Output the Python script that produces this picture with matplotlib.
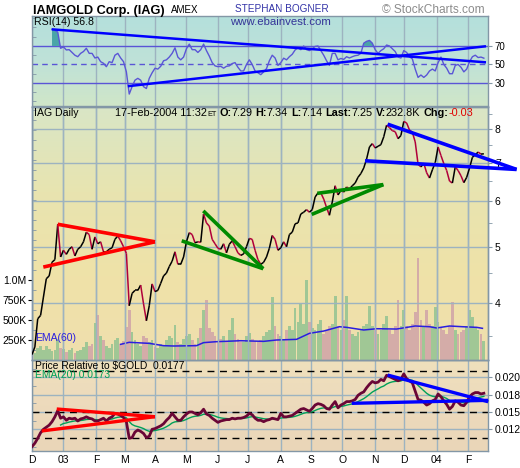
import numpy as np
import pandas as pd
import matplotlib
matplotlib.use("Agg")
import matplotlib.pyplot as plt
from matplotlib.collections import LineCollection
from matplotlib.colors import LinearSegmentedColormap
from matplotlib.ticker import MultipleLocator, FixedLocator

plt.rcParams["font.family"] = ["Liberation Sans", "DejaVu Sans"]

W, H = 520, 468

# trading days Dec 2 2002 .. Feb 17 2004; everything is plotted by trading-day index
DAYS = pd.bdate_range("2002-12-02", "2004-02-17")
STEP = 2          # series below every 2nd trading day
RSI_START = 7     # first RSI(14) sample (in steps)

# ── data ─────────────────────────────────────────────────────────────────────
price = [3.25, 3.35, 3.75, 3.80, 4.09, 4.40, 4.45, 4.70, 4.75, 5.47,
         4.80, 4.93, 4.85, 4.95, 5.00, 4.82, 4.95, 5.00, 5.10, 5.30,
         5.25, 4.95, 5.20, 5.06, 5.10, 4.90, 4.90, 4.95, 4.98, 5.15,
         5.22, 5.12, 5.00, 4.87, 3.95, 4.15, 4.20, 4.20, 4.29, 3.98,
         3.72, 3.95, 4.31, 4.18, 4.20, 4.32, 4.45, 4.50, 4.62, 4.72,
         4.90, 4.66, 4.66, 4.80, 5.10, 5.29, 5.25, 5.08, 5.10, 5.09,
         5.70, 5.50, 5.43, 5.15, 5.06, 4.97, 4.95, 5.06, 4.88, 5.05,
         5.12, 5.00, 4.88, 4.83, 4.86, 5.00, 5.17, 5.15, 4.93, 4.75,
         4.66, 4.70, 4.80, 4.97, 5.23, 5.15, 4.93, 4.98, 5.10, 5.00,
         5.25, 5.30, 5.48, 5.50, 5.70, 5.74, 5.80, 5.74, 5.80, 6.10,
         6.20, 6.20, 6.05, 5.85, 5.67, 5.98, 6.38, 6.15, 6.26, 6.22,
         6.35, 6.30, 6.38, 6.45, 6.60, 6.70, 6.85, 7.10, 7.45, 7.55,
         7.42, 7.47, 7.52, 7.76, 8.13, 8.05, 7.95, 7.92, 7.70, 7.80,
         8.25, 8.20, 7.97, 7.90, 7.60, 6.95, 6.88, 6.98, 6.72, 6.58,
         6.80, 7.00, 7.45, 7.20, 6.97, 6.78, 6.50, 6.45, 6.88, 6.78,
         6.64, 6.46, 6.60, 6.85, 7.15, 7.22, 7.30, 7.24, 7.25]

volume_k = [60, 90, 150, 180, 120, 170, 140, 110, 130, 260,
            150, 140, 100, 120, 150, 90, 110, 130, 160, 230,
            180, 200, 460, 560, 300, 250, 180, 150, 200, 250,
            280, 200, 240, 410, 630, 350, 250, 200, 180, 300,
            280, 220, 250, 160, 150, 200, 180, 250, 300, 280,
            440, 220, 200, 260, 300, 330, 250, 200, 280, 400,
            620, 750, 400, 350, 300, 220, 260, 300, 240, 380,
            520, 320, 260, 220, 230, 300, 340, 260, 240, 220,
            250, 300, 350, 380, 790, 420, 330, 300, 260, 380,
            420, 380, 650, 480, 700, 450, 1000, 480, 400, 380,
            450, 500, 330, 380, 420, 450, 800, 420, 380, 500,
            800, 380, 330, 300, 350, 380, 420, 450, 675, 420,
            380, 330, 380, 450, 550, 380, 330, 420, 750, 420,
            625, 420, 380, 450, 600, 1270, 500, 420, 625, 450,
            420, 660, 480, 400, 380, 330, 420, 725, 380, 330,
            350, 380, 420, 625, 540, 400, 380, 330, 233]

ema60_idx = [62, 68, 82, 92, 99, 115, 120, 129, 146, 162, 171, 185, 194,
             204, 215, 220, 232, 241, 255, 268, 278, 283, 292, 301, 311, 315]
ema60_k = [196, 221, 208, 179, 175, 179, 217, 229, 241, 233, 250, 258, 333,
           362, 416, 408, 375, 391, 387, 425, 416, 400, 425, 416, 408, 396]

rsi = [88, 87, 85,
       67.5, 69, 65.7, 66, 63, 60, 58.4, 62, 64, 67.5,
       62, 62, 57, 58, 53, 51.3, 47.6, 53, 52, 60,
       62, 57, 53, 42, 18, 26, 33, 35, 33, 26,
       24, 35, 41, 45.9, 45, 48, 54, 55, 58, 62,
       68, 58, 55, 58, 67, 72, 66, 66, 63, 66,
       72, 65, 59, 52, 48.5, 47.6, 48, 46, 48, 48.5,
       51, 52, 47, 43, 43, 50, 55, 50, 43, 41,
       39, 42, 45.5, 54, 60, 57, 49, 52, 56.8, 55,
       58.4, 61, 65.7, 68, 66, 70, 66, 65, 67, 69.5,
       70, 65, 60, 54, 49, 62, 62, 55, 56.5, 55.5,
       58.4, 57, 58.4, 59.5, 60, 62, 73, 75, 76, 73,
       66, 62, 65, 67, 71, 70, 67, 64, 58, 57,
       65, 63, 58.4, 56, 45, 36, 38.6, 36, 38.6, 43,
       45, 43, 52, 58, 50, 46, 40, 40, 49, 50,
       47, 42, 45, 53, 58.4, 60, 57.5, 58, 56.8]

rel_gold = [0.0100, 0.0105, 0.0112, 0.0120, 0.0125, 0.0128, 0.0131, 0.0136, 0.0143, 0.0152,
            0.0141, 0.0143, 0.0138, 0.0141, 0.0140, 0.0141, 0.0137, 0.0140, 0.0141, 0.0143,
            0.0141, 0.0140, 0.0137, 0.0137, 0.0139, 0.0141, 0.0137, 0.0141, 0.0143, 0.0148,
            0.0147, 0.0145, 0.0142, 0.0136, 0.0112, 0.0113, 0.0121, 0.0124, 0.0122, 0.0119,
            0.0113, 0.0115, 0.0125, 0.0126, 0.0128, 0.0130, 0.0133, 0.0138, 0.0142, 0.0148,
            0.0143, 0.0138, 0.0138, 0.0143, 0.0147, 0.0150, 0.0150, 0.0148, 0.0146, 0.0149,
            0.0154, 0.0147, 0.0145, 0.0141, 0.0138, 0.0135, 0.0137, 0.0138, 0.0139, 0.0139,
            0.0141, 0.0140, 0.0141, 0.0141, 0.0142, 0.0144, 0.0148, 0.0146, 0.0141, 0.0138,
            0.0138, 0.0136, 0.0138, 0.0139, 0.0141, 0.0140, 0.0139, 0.0148, 0.0143, 0.0143,
            0.0144, 0.0145, 0.0148, 0.0151, 0.0154, 0.0155, 0.0153, 0.0151, 0.0155, 0.0160,
            0.0162, 0.0161, 0.0159, 0.0155, 0.0154, 0.0160, 0.0165, 0.0156, 0.0160, 0.0162,
            0.0165, 0.0165, 0.0166, 0.0168, 0.0174, 0.0177, 0.0179, 0.0185, 0.0190, 0.0194,
            0.0192, 0.0193, 0.0197, 0.0195, 0.0203, 0.0201, 0.0199, 0.0197, 0.0195, 0.0197,
            0.0205, 0.0198, 0.0195, 0.0192, 0.0180, 0.0168, 0.0167, 0.0164, 0.0160, 0.0162,
            0.0166, 0.0168, 0.0176, 0.0172, 0.0166, 0.0161, 0.0154, 0.0158, 0.0166, 0.0164,
            0.0160, 0.0159, 0.0164, 0.0172, 0.0176, 0.0178, 0.0178, 0.0176, 0.0177]

month_labels = ["D", "03", "F", "M", "A", "M", "J", "J", "A", "S", "O", "N", "D", "04", "F"]

# hand-drawn trendlines: (index, value) end points
rsi_lines = [[(13.8, 88.0), (317.5, 52.3)], [(67.0, 26.5), (317.5, 69.7)]]
red_tri = [[(18.0, 5.47), (86.0, 5.10)], [(7.9, 4.61), (86.0, 5.10)]]
green_wedge1 = [[(119.8, 5.77), (161.7, 4.58)], [(104.7, 5.12), (161.7, 4.58)]]
green_wedge2 = [[(199.5, 6.19), (245.7, 6.41)], [(195.6, 5.69), (245.7, 6.41)]]
blue_tri = [[(248.7, 8.16), (338.9, 6.81)], [(232.9, 7.05), (338.9, 6.81)]]
rel_red = [[(17.3, 0.01543), (86.0, 0.01432)], [(6.8, 0.01226), (86.0, 0.01432)]]
rel_blue = [[(248.7, 0.02033), (319.0, 0.01648)], [(223.6, 0.01625), (319.0, 0.01668)]]

# ── styling ──────────────────────────────────────────────────────────────────
GRID = "#9db3c0"
EDGE = "#8397a6"
DOWN_RED = "#b0003a"
XMAX = 318.9

fig = plt.figure(figsize=(W / 100, H / 100), dpi=100)
fig.patch.set_facecolor("white")


def px(xp, yp):
    return xp / W, 1 - yp / H


def add_panel(top, bottom):
    return fig.add_axes([32 / W, 1 - bottom / H, 456 / W, (bottom - top) / H])


def gradient(a, stops):
    cmap = LinearSegmentedColormap.from_list("bg", stops)
    a.imshow(np.linspace(0, 1, 256).reshape(-1, 1), cmap=cmap, aspect="auto",
             extent=(0, 1, 0, 1), transform=a.transAxes, origin="lower", zorder=-1)


month_idx = [i for i in range(len(DAYS)) if i == 0 or DAYS[i].month != DAYS[i - 1].month]


def style_panel(a):
    a.set_xlim(0, XMAX)
    a.set_xticks(month_idx)
    a.tick_params(axis="x", which="both", length=0, labelbottom=False)
    a.set_axisbelow(True)
    a.grid(axis="x", color=GRID, lw=1)
    for s in a.spines.values():
        s.set_color(EDGE)
        s.set_linewidth(1)


def draw_lines(a, lines, color, lw=2.5):
    for (x0, y0), (x1, y1) in lines:
        a.plot([x0, x1], [y0, y1], color=color, lw=lw, solid_capstyle="butt",
               zorder=6, clip_on=False)


x = np.arange(len(price)) * STEP

# ── RSI panel ────────────────────────────────────────────────────────────────
ax_rsi = add_panel(16, 106)
gradient(ax_rsi, ["#d0e6c8", "#bfe2d8", "#b4e0dc"])
style_panel(ax_rsi)
ax_rsi.set_ylim(5.1, 102.4)
xr = x[RSI_START:]
rv = np.array(rsi)
ax_rsi.fill_between(xr, 70, rv, where=rv > 70, interpolate=True, color="#4aa5a8", lw=0, zorder=2)
for lvl in (70, 30):
    ax_rsi.axhline(lvl, color="#5a55d6", lw=1, zorder=1.5)
ax_rsi.axhline(50, color="#5a55d6", lw=1, ls=(0, (4, 3)), zorder=1.5)
ax_rsi.plot(xr, rv, color="#5a55d6", lw=1, zorder=3)
draw_lines(ax_rsi, rsi_lines, "#0000ff", lw=1.8)
ax_rsi.set_yticks([30, 50, 70])
ax_rsi.yaxis.set_minor_locator(MultipleLocator(10))
ax_rsi.tick_params(axis="y", which="major", left=False, right=True, labelleft=False,
                   labelright=True, labelsize=7, length=3, pad=2, color=EDGE)
ax_rsi.tick_params(axis="y", which="minor", left=True, right=False, direction="in",
                   length=3, color=EDGE)

# ── volume (behind price) ────────────────────────────────────────────────────
ax_vol = add_panel(107, 360)
gradient(ax_vol, ["#f0dfae", "#efe2a8", "#e8e4b0", "#d9e6c6"])
style_panel(ax_vol)
ax_vol.set_ylim(0, 3162)
up = np.r_[True, np.diff(price) >= 0]
ax_vol.bar(x, volume_k, width=1.9, color=np.where(up, "#a0c795", "#d4aca8"),
           lw=0, zorder=2)
ax_vol.plot(ema60_idx, ema60_k, color="#2a1ee0", lw=1.1, zorder=3)
ax_vol.set_yticks([250, 500, 750, 1000])
ax_vol.set_yticklabels(["250K", "500K", "750K", "1.0M"])
ax_vol.yaxis.set_minor_locator(MultipleLocator(125))
ax_vol.tick_params(axis="y", which="major", labelsize=7.5, length=3, pad=1, color="black")
ax_vol.tick_params(axis="y", which="minor", direction="in", length=3, color=EDGE)
ax_vol.set_zorder(1)
fig.text(*px(35, 341), "EMA(60)", color="#2a1ee0", fontsize=7.5, va="baseline", zorder=5)

# ── price panel ──────────────────────────────────────────────────────────────
ax = add_panel(107, 360)
ax.patch.set_visible(False)
style_panel(ax)
ax.set_zorder(2)
ax.set_yscale("log")
ax.set_ylim(3.18, 8.74)
ax.yaxis.set_major_locator(FixedLocator([4, 5, 6, 7, 8]))
ax.yaxis.set_minor_locator(FixedLocator([3.5, 4.5, 5.5, 6.5, 7.5, 8.5]))
ax.set_yticklabels(["4", "5", "6", "7", "8"])
ax.yaxis.set_minor_formatter(plt.NullFormatter())
ax.grid(axis="y", which="major", color=GRID, lw=1)
ax.tick_params(axis="y", which="both", left=False, right=True, labelleft=False,
               labelright=True, labelsize=7.5, length=3, pad=2, color=EDGE)
pts = np.column_stack([x, price])
segs = np.stack([pts[:-1], pts[1:]], axis=1)
seg_col = np.where(np.diff(price) >= 0, "black", DOWN_RED)
ax.add_collection(LineCollection(segs, colors=seg_col, linewidths=1.1, zorder=4))
draw_lines(ax, red_tri, "#ff0000", lw=2.6)
draw_lines(ax, green_wedge1, "#008a00", lw=2.6)
draw_lines(ax, green_wedge2, "#008a00", lw=2.6)
draw_lines(ax, blue_tri, "#0000ff", lw=2.6)
ax.set_xlim(0, XMAX)

# ── price relative to gold ───────────────────────────────────────────────────
ax_rel = add_panel(360, 451)
gradient(ax_rel, ["#ead6b8", "#eddabc", "#efe0bc"])
style_panel(ax_rel)
ax_rel.set_ylim(0.00937, 0.0225)
ax_rel.set_yticks([0.0125, 0.015, 0.0175, 0.020])
ax_rel.set_yticklabels(["0.012", "0.015", "0.018", "0.020"])
ax_rel.yaxis.set_minor_locator(MultipleLocator(0.00125))
ax_rel.grid(axis="y", which="major", color=GRID, lw=1)
ax_rel.tick_params(axis="y", which="major", left=False, right=True, labelleft=False,
                   labelright=True, labelsize=7.5, length=3, pad=2, color=EDGE)
ax_rel.tick_params(axis="y", which="minor", left=True, right=False, direction="in",
                   length=3, color=EDGE)
for lvl in (0.02091, 0.0150, 0.01125):
    ax_rel.axhline(lvl, color="black", lw=1, ls=(0, (5, 4)), zorder=1.5)
rel_ema = pd.Series(rel_gold).ewm(span=20 // STEP, adjust=False).mean()
ax_rel.plot(x[10:], rel_ema[10:], color="#00a058", lw=1, zorder=3)
ax_rel.plot(x, rel_gold, color="#6a0636", lw=2, zorder=4)
draw_lines(ax_rel, rel_red, "#ff0000", lw=2.4)
draw_lines(ax_rel, rel_blue, "#0000ff", lw=2.4)
ax_rel.set_xticklabels(month_labels)
ax_rel.tick_params(axis="x", labelbottom=True, labelsize=7.5, pad=3)
ax_rel.set_xlim(0, XMAX)

# ── texts ────────────────────────────────────────────────────────────────────
fig.text(*px(33, 14), "IAMGOLD Corp. (IAG)", fontsize=9.2, fontweight="bold", va="baseline")
fig.text(*px(171, 13), "AMEX", fontsize=7, va="baseline")
fig.text(*px(235, 12), "STEPHAN BOGNER", fontsize=7.2, color="#3434a8", va="baseline")
fig.text(*px(382, 13), "\u00a9 StockCharts.com", fontsize=8.6, color="#8c8c8c", va="baseline")
fig.text(*px(34, 25), "RSI(14) 56.8", fontsize=7.6, va="baseline")
fig.text(*px(230, 25), "www.ebainvest.com", fontsize=8.2, color="#343498", va="baseline")
fig.text(*px(34, 116), "IAG Daily", fontsize=7.6, va="baseline")
fig.text(*px(35, 369), "Price Relative to $GOLD  0.0177", fontsize=7.4, va="baseline")
fig.text(*px(35, 378), "EMA(20) 0.0173", fontsize=7.4, color="#00a058", va="baseline")

renderer = fig.canvas.get_renderer()
header = [("17-Feb-2004 11:32", "normal", 7.8, "black", 0),
          ("ET", "normal", 5.2, "black", 0),
          ("O:", "bold", 7.8, "black", 3), ("7.29", "normal", 7.8, "black", 0),
          ("H:", "bold", 7.8, "black", 3), ("7.34", "normal", 7.8, "black", 0),
          ("L:", "bold", 7.8, "black", 3), ("7.14", "normal", 7.8, "black", 0),
          ("Last:", "bold", 7.8, "black", 3), ("7.25", "normal", 7.8, "black", 0),
          ("V:", "bold", 7.8, "black", 3), ("232.8K", "normal", 7.8, "black", 0),
          ("Chg:", "bold", 7.8, "black", 3), ("-0.03", "normal", 7.8, "#e00000", 0)]
xc = 115
for s, weight, size, color, gap in header:
    xc += gap
    t = fig.text(*px(xc, 116), s, fontsize=size, fontweight=weight, color=color, va="baseline")
    xc += t.get_window_extent(renderer).width

fig.savefig("out.png", dpi=100)
